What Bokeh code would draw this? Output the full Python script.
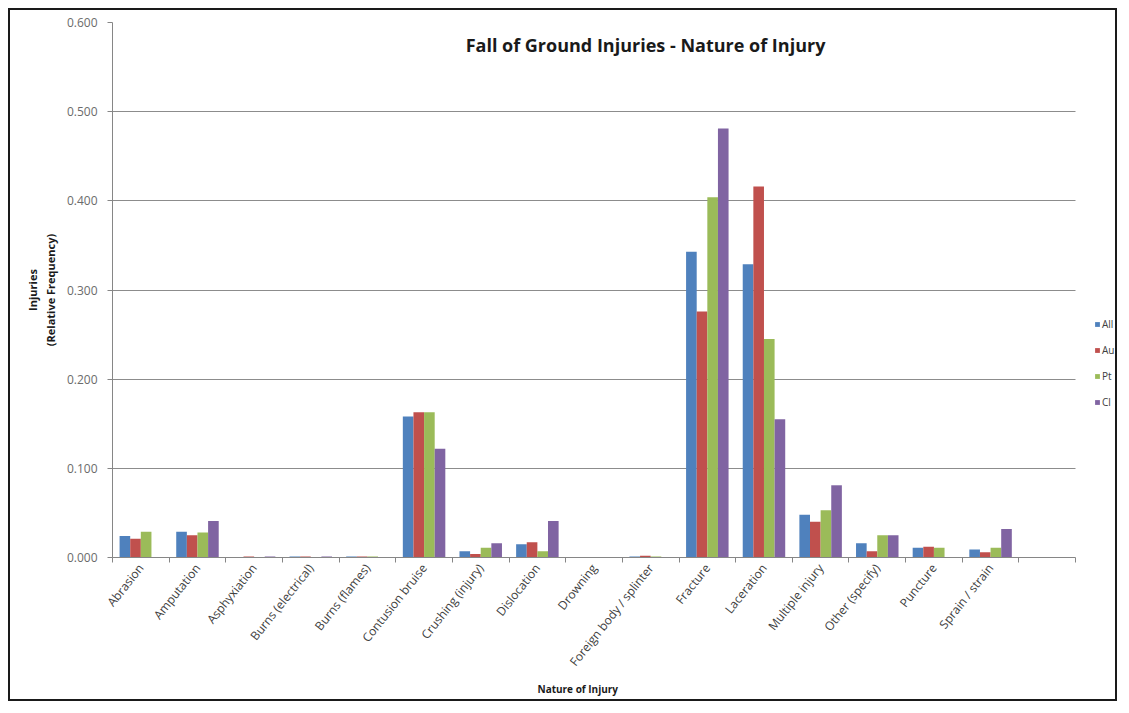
import numpy as np
from bokeh.plotting import figure
from bokeh.models import (ColumnDataSource, FixedTicker, NumeralTickFormatter,
                          Legend, LegendItem, Label, Range1d, Title)
from bokeh.transform import dodge
from bokeh.embed import file_html
from bokeh.resources import INLINE

categories = ["Abrasion", "Amputation", "Asphyxiation", "Burns (electrical)",
              "Burns (flames)", "Contusion bruise", "Crushing (injury)",
              "Dislocation", "Drowning", "Foreign body / splinter", "Fracture",
              "Laceration", "Multiple injury", "Other (specify)", "Puncture",
              "Sprain / strain"]
series_names = ["All", "Au", "Pt", "Cl"]
all_vals = [0.024, 0.029, 0.000, 0.001, 0.001, 0.158, 0.007, 0.015, 0.000, 0.001,
            0.343, 0.329, 0.048, 0.016, 0.011, 0.009]
au_vals = [0.021, 0.025, 0.001, 0.001, 0.001, 0.163, 0.004, 0.017, 0.000, 0.002,
           0.276, 0.416, 0.040, 0.007, 0.012, 0.006]
pt_vals = [0.029, 0.028, 0.000, 0.000, 0.001, 0.163, 0.011, 0.007, 0.000, 0.001,
           0.404, 0.245, 0.053, 0.025, 0.011, 0.011]
cl_vals = [0.000, 0.041, 0.001, 0.001, 0.000, 0.122, 0.016, 0.041, 0.000, 0.000,
           0.481, 0.155, 0.081, 0.025, 0.000, 0.032]
y_ticks = [0.0, 0.1, 0.2, 0.3, 0.4, 0.5, 0.6]
colors = ["#4F81BD", "#C0504D", "#9BBB59", "#8064A2"]

n_slots = len(categories) + 1  # Excel leaves one empty slot at the end
xs = list(range(1, len(categories) + 1))
src = ColumnDataSource(dict(x=xs, All=all_vals, Au=au_vals, Pt=pt_vals, Cl=cl_vals))

# layout in pixels: plot area of the categories, then free room for the legend
W, H = 1109, 693
slot_px = 56.65
frame_left, frame_right = 102, W
x_start = 0.5
x_end = x_start + (frame_right - frame_left) / slot_px
cat_end = n_slots + 0.5

FONT = "Open Sans"
p = figure(width=W, height=H, output_backend="svg", toolbar_location=None,
           x_range=Range1d(x_start, x_end), y_range=Range1d(0, 0.6),
           min_border_left=frame_left, min_border_right=0,
           min_border_top=12, min_border_bottom=146,
           background_fill_color="white", border_fill_color="white",
           outline_line_color=None,
           styles={"border": "2px solid #1a1a1a", "margin-left": "8px", "margin-top": "8px"})

bw = 0.1875
offsets = [-1.5 * bw, -0.5 * bw, 0.5 * bw, 1.5 * bw]
renderers = []
for name, c, off in zip(series_names, colors, offsets):
    r = p.vbar(x=dodge("x", off, range=p.x_range), top=name, width=bw, source=src,
               fill_color=c, line_color=None)
    renderers.append(r)

# x axis
p.xaxis.bounds = (x_start, cat_end)
p.xaxis.ticker = FixedTicker(ticks=xs, minor_ticks=[i + 0.5 for i in range(0, n_slots + 1)])
p.xaxis.major_label_overrides = {x: c for x, c in zip(xs, categories)}
p.xaxis.major_label_orientation = 0.9
p.xaxis.major_tick_line_color = None
p.xaxis.minor_tick_in = 0
p.xaxis.minor_tick_out = 5
p.xaxis.minor_tick_line_color = "#868686"
p.xaxis.axis_line_color = "#868686"
p.xaxis.major_label_text_font = FONT
p.xaxis.major_label_text_font_size = "12px"
p.xaxis.major_label_text_color = "#404040"
p.xaxis.major_label_standoff = 2
p.xgrid.grid_line_color = None

# x axis title, placed as in the reference (left of the frame centre)
p.add_layout(Title(text="Nature of Injury", align="left", offset=425,
                   text_font=FONT, text_font_size="10px", text_font_style="bold",
                   text_color="#1a1a1a", standoff=4), "below")

# y axis
p.yaxis.ticker = FixedTicker(ticks=y_ticks)
p.yaxis.formatter = NumeralTickFormatter(format="0.000")
p.yaxis.major_label_text_font = FONT
p.yaxis.major_label_text_font_size = "12px"
p.yaxis.major_label_text_color = "#6b6b6b"
p.yaxis.major_tick_in = 0
p.yaxis.major_tick_out = 5
p.yaxis.major_tick_line_color = "#868686"
p.yaxis.minor_tick_line_color = None
p.yaxis.axis_line_color = "#868686"
p.yaxis.major_label_standoff = 10
p.yaxis.axis_label = "Injuries\n(Relative Frequency)"
p.yaxis.axis_label_text_font = FONT
p.yaxis.axis_label_text_font_size = "11px"
p.yaxis.axis_label_text_font_style = "bold"
p.yaxis.axis_label_text_color = "#1a1a1a"
p.yaxis.axis_label_standoff = 6
p.ygrid.ticker = FixedTicker(ticks=y_ticks)
p.ygrid.cross_bounds = (x_start, cat_end)
p.ygrid.grid_line_color = "#8c8c8c"
p.ygrid.grid_line_width = 1

# chart title inside plot area
p.add_layout(Label(x=x_start + (645 - 112) / slot_px, y=0.588, x_units="data", y_units="data",
                   text="Fall of Ground Injuries - Nature of Injury",
                   text_font=FONT, text_font_size="18px", text_font_style="bold",
                   text_color="#1a1a1a", text_align="center", text_baseline="top"))

legend = Legend(items=[LegendItem(label=n, renderers=[r]) for n, r in zip(series_names, renderers)],
                location=(982, 145), orientation="vertical",
                glyph_width=6, glyph_height=6, label_standoff=2, spacing=6,
                label_height=20, label_text_font=FONT, label_text_font_size="10px",
                label_text_color="#404040", padding=0, margin=0,
                background_fill_alpha=0, border_line_color=None)
p.add_layout(legend, "center")

open("out.html", "w").write(file_html(p, INLINE))
